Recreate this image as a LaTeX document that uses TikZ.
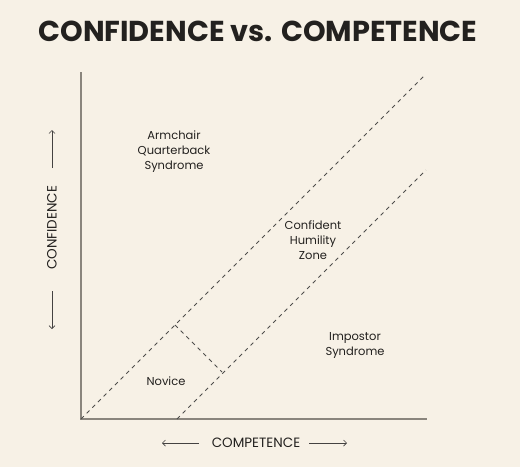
\documentclass[tikz,border=0pt]{standalone}
\usepackage{fontspec}
\setmainfont{Poppins}
\usetikzlibrary{arrows.meta,positioning}
\definecolor{paper}{RGB}{247,241,230}
\definecolor{ink}{RGB}{35,33,31}
\definecolor{axisgray}{RGB}{138,133,125}

\begin{document}
\begin{tikzpicture}[x=1pt,y=-1pt,
    zone/.style={align=center, font=\fontsize{11.5}{15}\selectfont, text=ink, inner sep=0pt},
    axislabel/.style={font=\fontsize{13.5}{15}\selectfont, text=ink, inner sep=0pt},
    axisline/.style={axisgray, line width=1.5pt},
    border/.style={ink!80, line width=0.8pt, dash pattern=on 4pt off 4pt},
    arrow/.style={-{Straight Barb[length=3pt,width=6pt]}, ink!85, line width=0.7pt}
]
% background and bounds
\fill[paper] (0,0) rectangle (520,467);
\useasboundingbox (0,0) rectangle (520,467);

\node[font=\fontsize{28.8}{32}\selectfont\bfseries, text=ink, inner sep=0pt] (title) at (258,31) {CONFIDENCE vs. COMPETENCE};

% axes
\coordinate (origin) at (81,419);
\coordinate (ytop) at (81,72);
\coordinate (xend) at (427,419);
\draw[axisline] (ytop) -- (origin) -- (xend);

% zone borders
\coordinate (upperend) at (424,76);
\coordinate (lowerstart) at (177,419);
\coordinate (lowerend) at (426,170);
\coordinate (cutA) at (175,325);
\coordinate (cutB) at (222,372);
\draw[border] (origin) -- (upperend);
\draw[border] (lowerstart) -- (lowerend);
\draw[border] (cutA) -- (cutB);

% zones
\node[zone] (armchair) at (174,152) {Armchair\\Quarterback\\Syndrome};
\node[zone] (humility) at (313,240) {Confident\\Humility\\Zone};
\node[zone] (impostor) at (355,345) {Impostor\\Syndrome};
\node[zone] (novice) at (166,381) {Novice};

% axis labels
\node[axislabel] (competence) at (256,443) {COMPETENCE};
\coordinate (cl0) at (199,443);
\coordinate (cl) at (162,443);
\coordinate (cr0) at (309,443);
\coordinate (cr) at (347,443);
\draw[arrow] (cl0) -- (cl);
\draw[arrow] (cr0) -- (cr);

\node[axislabel, rotate=90] (confidence) at (52,228) {CONFIDENCE};
\coordinate (cu0) at (52,168);
\coordinate (cu) at (52,130);
\coordinate (cd0) at (52,291);
\coordinate (cd) at (52,329);
\draw[arrow] (cu0) -- (cu);
\draw[arrow] (cd0) -- (cd);
\end{tikzpicture}
\end{document}
